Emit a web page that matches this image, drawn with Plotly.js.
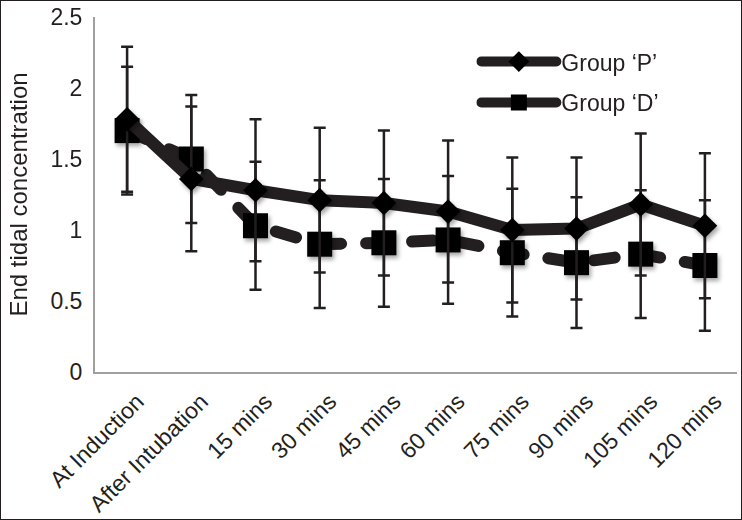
<!DOCTYPE html>
<html>
<head>
<meta charset="utf-8">
<script src="https://cdn.plot.ly/plotly-3.0.1.min.js"></script>
<style>
  html, body { margin: 0; padding: 0; background: #fff; }
  #frame { width: 740px; height: 518px; border: 1px solid #231f20; }
</style>
</head>
<body>
<div id="frame"></div>
<script>
// Categories (time points)
const categories = ['At Induction', 'After Intubation', '15 mins', '30 mins', '45 mins',
                    '60 mins', '75 mins', '90 mins', '105 mins', '120 mins'];
// Group 'P' means and SD
const groupP = [1.78, 1.36, 1.28, 1.21, 1.19, 1.13, 1.00, 1.01, 1.18, 1.03];
const groupPErr = [0.51, 0.51, 0.50, 0.51, 0.51, 0.50, 0.51, 0.50, 0.50, 0.51];
// Group 'D' means and SD
const groupD = [1.70, 1.50, 1.03, 0.90, 0.91, 0.93, 0.84, 0.77, 0.83, 0.75];
const groupDErr = [0.45, 0.45, 0.45, 0.45, 0.45, 0.45, 0.45, 0.46, 0.45, 0.46];
const yTicks = [0, 0.5, 1, 1.5, 2, 2.5];
const yTickText = ['0', '0.5', '1', '1.5', '2', '2.5'];

const ink = '#231f20';
const font = 'Liberation Sans, Arial, sans-serif';

const traceD = {
  x: categories, y: groupD, type: 'scatter', mode: 'lines+markers',
  name: 'Group \u2018D\u2019', legendrank: 2, legendgroup: 'd',
  line: { color: ink, width: 12, dash: '21px,25px' },
  marker: { symbol: 'square', size: 25, color: '#000' },
  error_y: { type: 'data', array: groupDErr, symmetric: true, color: ink, thickness: 2.5, width: 6 }
};
const traceP = {
  x: categories, y: groupP, type: 'scatter', mode: 'lines+markers',
  name: 'Group \u2018P\u2019', legendrank: 1, legendgroup: 'p',
  line: { color: ink, width: 12 },
  marker: { symbol: 'diamond', size: 19, color: '#000' },
  error_y: { type: 'data', array: groupPErr, symmetric: true, color: ink, thickness: 2.5, width: 6 }
};

const layout = {
  width: 740, height: 518,
  margin: { l: 94, r: 4, t: 16, b: 147, pad: 0 },
  paper_bgcolor: '#fff', plot_bgcolor: '#fff',
  font: { family: font, color: ink, size: 23 },
  showlegend: true,
  legend: {
    x: 0.594, xanchor: 'left', y: 0.935, yanchor: 'top',
    bgcolor: 'rgba(0,0,0,0)', font: { size: 23, color: ink },
    itemwidth: 75, tracegroupgap: 8
  },
  xaxis: {
    type: 'category', range: [-0.5, categories.length - 0.5],
    showline: true, linecolor: '#a0a0a0', linewidth: 2,
    showgrid: false, zeroline: false, ticks: '', tickangle: -45,
    tickfont: { size: 23, color: ink }, ticklabelstandoff: 5, ticklabelshift: 10,
    automargin: false, fixedrange: true
  },
  yaxis: {
    range: [0, 2.5], tickvals: yTicks, ticktext: yTickText,
    showline: true, linecolor: '#a0a0a0', linewidth: 2, showgrid: false, zeroline: false,
    ticks: '', ticklabelstandoff: 6, tickfont: { size: 23, color: ink },
    title: { text: 'End tidal concentration', font: { size: 24, color: ink }, standoff: 16 },
    automargin: false, fixedrange: true
  }
};

Plotly.newPlot('frame', [traceD, traceP], layout, { displayModeBar: false, staticPlot: true }).then(function (gd) {
  gd.querySelectorAll('.scatterlayer path.js-line').forEach(function (p) {
    p.style.strokeLinecap = 'round';
    p.style.strokeLinejoin = 'round';
  });
  gd.querySelectorAll('.legend path.js-line').forEach(function (p) {
    p.style.strokeDasharray = 'none';
    p.style.strokeLinecap = 'round';
  });
  // soft drop shadow under the markers, as in the reference
  const svg = gd.querySelector('svg.main-svg');
  const ns = 'http://www.w3.org/2000/svg';
  const defs = svg.querySelector('defs') || svg.insertBefore(document.createElementNS(ns, 'defs'), svg.firstChild);
  const filt = document.createElementNS(ns, 'filter');
  filt.setAttribute('id', 'mkshadow');
  filt.setAttribute('x', '-50%'); filt.setAttribute('y', '-50%');
  filt.setAttribute('width', '200%'); filt.setAttribute('height', '200%');
  const ds = document.createElementNS(ns, 'feDropShadow');
  ds.setAttribute('dx', '2'); ds.setAttribute('dy', '3');
  ds.setAttribute('stdDeviation', '2'); ds.setAttribute('flood-color', '#000');
  ds.setAttribute('flood-opacity', '0.35');
  filt.appendChild(ds);
  defs.appendChild(filt);
  gd.querySelectorAll('.scatterlayer .points').forEach(function (g) {
    g.setAttribute('filter', 'url(#mkshadow)');
  });
});
</script>
</body>
</html>
